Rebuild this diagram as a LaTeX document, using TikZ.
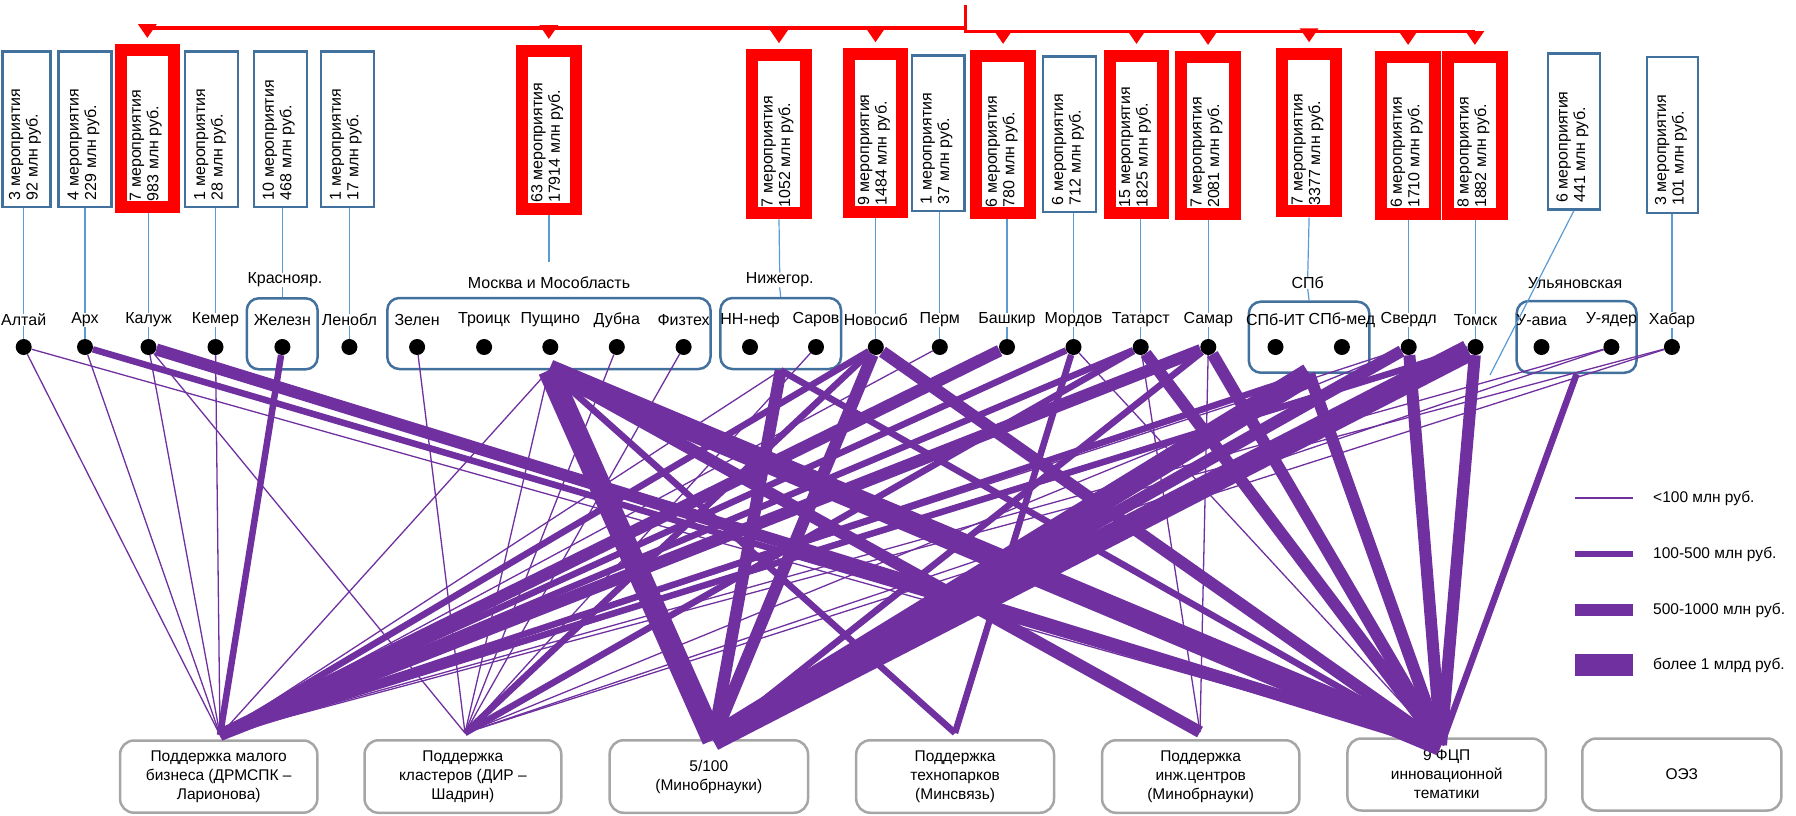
\documentclass[tikz,border=0pt]{standalone}
\usepackage{fontspec}
\setmainfont{Liberation Sans}
\usetikzlibrary{arrows.meta}
\definecolor{pur}{HTML}{7030A0}
\definecolor{bbox}{HTML}{41719C}
\definecolor{stemc}{HTML}{5B9BD5}
\definecolor{gbox}{HTML}{A6A6A6}
\newcommand\bbx[8]{%
  \pgfmathsetmacro\tbcx{(#3+#5)/2}\pgfmathsetmacro\tbcy{(#4+#6)/2}%
  \pgfmathsetmacro\tbww{#5-#3-2.5}\pgfmathsetmacro\tbhh{#6-#4-2.5}%
  \node[bluebox, minimum width=\tbww pt, minimum height=\tbhh pt] (#1) at (\tbcx,\tbcy) {};
  \node[boxtext] (#1t) at (\tbcx-1.5,#6-8) {#7\\#8};}
\newcommand\rbx[8]{%
  \pgfmathsetmacro\tbcx{(#3+#5)/2}\pgfmathsetmacro\tbcy{(#4+#6)/2}%
  \pgfmathsetmacro\tbww{#5-#3-12}\pgfmathsetmacro\tbhh{#6-#4-12}%
  \node[redbox, minimum width=\tbww pt, minimum height=\tbhh pt] (#1) at (\tbcx,\tbcy) {};
  \node[boxtext] (#1t) at (\tbcx-1.5,#6-12) {#7\\#8};}
\begin{document}
\begin{tikzpicture}[x=1pt,y=-1pt,
  font=\fontsize{16}{17.5}\selectfont,
  bluebox/.style={draw=bbox, line width=2.5pt, fill=white, inner sep=0pt},
  redbox/.style={draw=red, line width=12pt, fill=white, inner sep=0pt},
  boxtext/.style={rotate=90, anchor=west, align=left, inner sep=0pt},
  grp/.style={draw=bbox, line width=2.5pt, rounded corners=12pt, inner sep=0pt},
  prog/.style={draw=gbox, line width=2.5pt, rounded corners=14pt, fill=white, align=center, inner sep=0pt, font=\fontsize{15.5}{19}\selectfont},
  dot/.style={circle, fill=black, minimum size=16pt, inner sep=0pt},
  lab/.style={inner sep=0pt},
  stem/.style={draw=stemc, line width=1.2pt},
  redl/.style={draw=red, line width=3.5pt},
  redarr/.style={draw=red, line width=3.5pt, -{Triangle[width=18pt 0 0,length=14pt 0 0]}},
  e1/.style={draw=pur, line width=1.3pt},
  e2/.style={draw=pur, line width=6.5pt},
  e3/.style={draw=pur, line width=12pt},
  e4/.style={draw=pur, line width=22pt},
]
\useasboundingbox (0,0) rectangle (1796,815);
% ---------- top boxes ----------
\bbx{b1}{}{1.3}{50}{51.7}{208.3}{3 мероприятия}{92 млн руб.}
\bbx{b2}{}{57.4}{50}{112.9}{208.3}{4 мероприятия}{229 млн руб.}
\rbx{b3}{}{114.8}{44}{179.9}{213.3}{7 мероприятия}{983 млн руб.}
\bbx{b4}{}{183.7}{50}{239.2}{208.3}{1 мероприятия}{28 млн руб.}
\bbx{b5}{}{252.6}{50}{308}{208.3}{10 мероприятия}{468 млн руб.}
\bbx{b6}{}{319.6}{50}{375}{208.3}{1 мероприятия}{17 млн руб.}
\rbx{b7}{}{515.9}{45}{581.7}{215}{63 мероприятия}{17914 млн руб.}
\rbx{b8}{}{746}{49.3}{812}{219.3}{7 мероприятия}{1052 млн руб.}
\rbx{b9}{}{843}{48.3}{908}{217.7}{9 мероприятия}{1484 млн руб.}
\bbx{b10}{}{910.6}{54}{965.5}{212.3}{1 мероприятия}{37 млн руб.}
\rbx{b11}{}{970.3}{50}{1035.9}{219.3}{6 мероприятия}{780 млн руб.}
\bbx{b12}{}{1041.8}{55}{1097.2}{213.3}{6 мероприятия}{712 млн руб.}
\rbx{b13}{}{1103.9}{50}{1169.1}{219.3}{15 мероприятия}{1825 млн руб.}
\rbx{b14}{}{1175}{51}{1241}{220}{7 мероприятия}{2081 млн руб.}
\rbx{b15}{}{1276.3}{48.3}{1341.9}{217.3}{7 мероприятия}{3377 млн руб.}
\rbx{b16}{}{1375.3}{51}{1440.9}{220}{6 мероприятия}{1710 млн руб.}
\rbx{b17}{}{1441.7}{51}{1508}{220}{8 мероприятия}{1882 млн руб.}
\bbx{b18}{}{1546.6}{52.3}{1601.2}{210.7}{6 мероприятия}{441 млн руб.}
\bbx{b19}{}{1645.6}{55.7}{1699.4}{214}{3 мероприятия}{101 млн руб.}
% ---------- red distribution line ----------
\coordinate (rl) at (147.4,28);
\coordinate (rm1) at (965.5,28);
\coordinate (rtop) at (965.5,5);
\coordinate (rm2) at (965.5,31.5);
\coordinate (rr) at (1474.9,31.5);
\draw[redl] (rl) -- (rm1);
\draw[redl] (rtop) -- (rm2) -- (rr);
\foreach \b in {b3,b7}{\draw[redarr] (\b.north |- rl) -- ([yshift=6pt]\b.north);}
\foreach \b in {b8,b9,b11,b13,b14,b15,b16,b17}{\draw[redarr] (\b.north |- rr) -- ([yshift=6pt]\b.north);}
% ---------- group boxes ----------
\node[grp, minimum width=70.8pt, minimum height=71pt] (gKr) at (282.2,333.8) {};
\node[grp, minimum width=323.2pt, minimum height=71pt] (gMos) at (548.9,333.5) {};
\node[grp, minimum width=120.6pt, minimum height=71pt] (gNN) at (780.7,333.5) {};
\node[grp, minimum width=120.6pt, minimum height=71pt] (gSPb) at (1309.1,337.2) {};
\node[grp, minimum width=119.8pt, minimum height=71.7pt] (gUl) at (1576.6,336.9) {};
\node[lab] (lKr) at (285,280) {Краснояр.};
\node[lab] (lMos) at (549,283) {Москва и Мособласть};
\node[lab] (lNN) at (779.7,280) {Нижегор.};
\node[lab] (lSPb) at (1307.7,283) {СПб};
\node[lab] (lUl) at (1575,283) {Ульяновская};
% ---------- region dots ----------
\foreach \n/\x/\t in {altai/23.7/Алтай, arkh/85/Арх, kaluzh/148.5/Калуж, kemer/215.5/Кемер,
  zhel/282.4/Железн, lenobl/349.4/Ленобл, zelen/417.1/Зелен, troick/484.1/Троицк,
  push/550.3/Пущино, dubna/616.8/Дубна, fiztekh/683.6/Физтех, nnnef/750/НН-неф,
  sarov/816/Саров, novosib/875.8/Новосиб, perm/939.8/Перм, bashk/1007/Башкир,
  mordov/1073.5/Мордов, tatar/1140.7/Татарст, samar/1208.3/Самар, spbit/1275.5/СПб-ИТ,
  spbmed/1341.9/СПб-мед, sverd/1408.7/Свердл, tomsk/1475.5/Томск, uavia/1541.5/У-авиа,
  uyader/1611.4/У-ядер, khab/1671.9/Хабар}{
  \node[lab] (\n l) at (\x,320) {\t};
}
% ---------- stems ----------
\foreach \b/\d in {b1/altai,b2/arkh,b3/kaluzh,b4/kemer,b6/lenobl,b9/novosib,b10/perm,b11/bashk,
  b12/mordov,b13/tatar,b14/samar,b16/sverd,b17/tomsk,b19/khab}{
  \draw[stem] (\b.south -| \d l) -- (\d l.north);
  \draw[stem] (\d l.south) -- ++(0,20);
}
\coordinate (mosend) at (549,262);
\draw[stem] (b7.south -| mosend) -- (mosend);
\draw[stem] (b5.south -| gKr.north) -- (lKr.north -| gKr.north);
\draw[stem] (lKr.south -| gKr.north) -- (gKr.north);
\draw[stem] (b8.south) -- (lNN.north);
\draw[stem] (lNN.south) -- (gNN.north);
\draw[stem] (b15.south) -- (lSPb.north);
\draw[stem] (lSPb.south) -- (gSPb.north);
\coordinate (ulend) at (1490,375);
\draw[stem] (b18.south) -- (ulend);
\foreach \n/\x in {altai/23.7, arkh/85, kaluzh/148.5, kemer/215.5,
  zhel/282.4, lenobl/349.4, zelen/417.1, troick/484.1,
  push/550.3, dubna/616.8, fiztekh/683.6, nnnef/750,
  sarov/816, novosib/875.8, perm/939.8, bashk/1007,
  mordov/1073.5, tatar/1140.7, samar/1208.3, spbit/1275.5,
  spbmed/1341.9, sverd/1408.7, tomsk/1475.5, uavia/1541.5,
  uyader/1611.4, khab/1671.9}{
  \node[dot] (\n) at (\x,347) {};
}
% ---------- programme boxes ----------
\node[prog, minimum width=197.3pt, minimum height=72.2pt] (pA) at (218.7,776.6) {Поддержка малого\\бизнеса (ДРМСПК –\\Ларионова)};
\node[prog, minimum width=196.7pt, minimum height=72.5pt] (pB) at (462.9,776.5) {Поддержка\\кластеров (ДИР –\\Шадрин)};
\node[prog, minimum width=198.4pt, minimum height=72.5pt] (pC) at (708.8,776.5) {5/100\\(Минобрнауки)};
\node[prog, minimum width=197.8pt, minimum height=72.5pt] (pD) at (955.1,776.5) {Поддержка\\технопарков\\(Минсвязь)};
\node[prog, minimum width=197.3pt, minimum height=72.5pt] (pE) at (1200.7,776.5) {Поддержка\\инж.центров\\(Минобрнауки)};
\node[prog, minimum width=198.5pt, minimum height=72pt] (pF) at (1446.7,774.5) {9 ФЦП\\инновационной\\тематики};
\node[prog, minimum width=199.1pt, minimum height=72pt] (pG) at (1681.8,774.5) {ОЭЗ};
\coordinate (tA) at (220,735);
\coordinate (tB) at (465,733);
\coordinate (tC) at (713,740);
\coordinate (tD) at (955,733);
\coordinate (tE) at (1200,732);
\coordinate (tF) at (1441,745);
% ---------- connections ----------
\foreach \s/\t/\w in {altai/tA/e1, altai/tF/e1, arkh/tA/e1, arkh/tF/e2,
  kaluzh/tA/e1, kaluzh/tB/e1, kaluzh/tF/e3, kemer/tA/e1, zhel/tA/e2, zelen/tB/e1,
  gMos.south/tA/e1, gMos.south/tB/e1, gMos.south/tC/e4, gMos.south/tF/e4, gMos.south/tE/e3, gMos.south/tD/e2,
  dubna/tB/e1, fiztekh/tB/e1, gNN.south/tA/e1, gNN.south/tC/e3, gNN.south/tF/e2, sarov/tB/e1,
  novosib/tA/e2, novosib/tB/e2, novosib/tC/e3, novosib/tF/e3, perm/tA/e1, bashk/tA/e3,
  mordov/tA/e2, mordov/tD/e2, mordov/tF/e1, tatar/tA/e2, tatar/tB/e2, tatar/tE/e1, tatar/tF/e3,
  samar/tA/e3, samar/tC/e2, samar/tE/e1, samar/tF/e3, gSPb.south/tA/e2, gSPb.south/tC/e4, gSPb.south/tF/e3,
  sverd/tA/e1, sverd/tB/e1, sverd/tC/e3, sverd/tF/e3, tomsk/tC/e4, tomsk/tF/e3, tomsk/tA/e2,
  gUl.south/tF/e2, uyader/tA/e1, uyader/tB/e1, khab/tA/e1, khab/tB/e1}{
  \draw[\w] (\s) -- (\t);
}
% ---------- legend ----------
\coordinate (l1a) at (1575,498); \coordinate (l1b) at (1633,498);
\coordinate (l2a) at (1575,554); \coordinate (l2b) at (1633,554);
\coordinate (l3a) at (1575,610); \coordinate (l3b) at (1633,610);
\coordinate (l4a) at (1575,665); \coordinate (l4b) at (1633,665);
\draw[e1] (l1a) -- (l1b); \draw[e2] (l2a) -- (l2b);
\draw[e3] (l3a) -- (l3b); \draw[e4] (l4a) -- (l4b);
\begin{scope}[every node/.style={anchor=west, inner sep=0pt, font=\fontsize{15.5}{18}\selectfont}]
\node (lg1) at (1653,498) {<100 млн руб.};
\node (lg2) at (1653,554) {100-500 млн руб.};
\node (lg3) at (1653,610) {500-1000 млн руб.};
\node (lg4) at (1653,665) {более 1 млрд руб.};
\end{scope}
\end{tikzpicture}
\end{document}
